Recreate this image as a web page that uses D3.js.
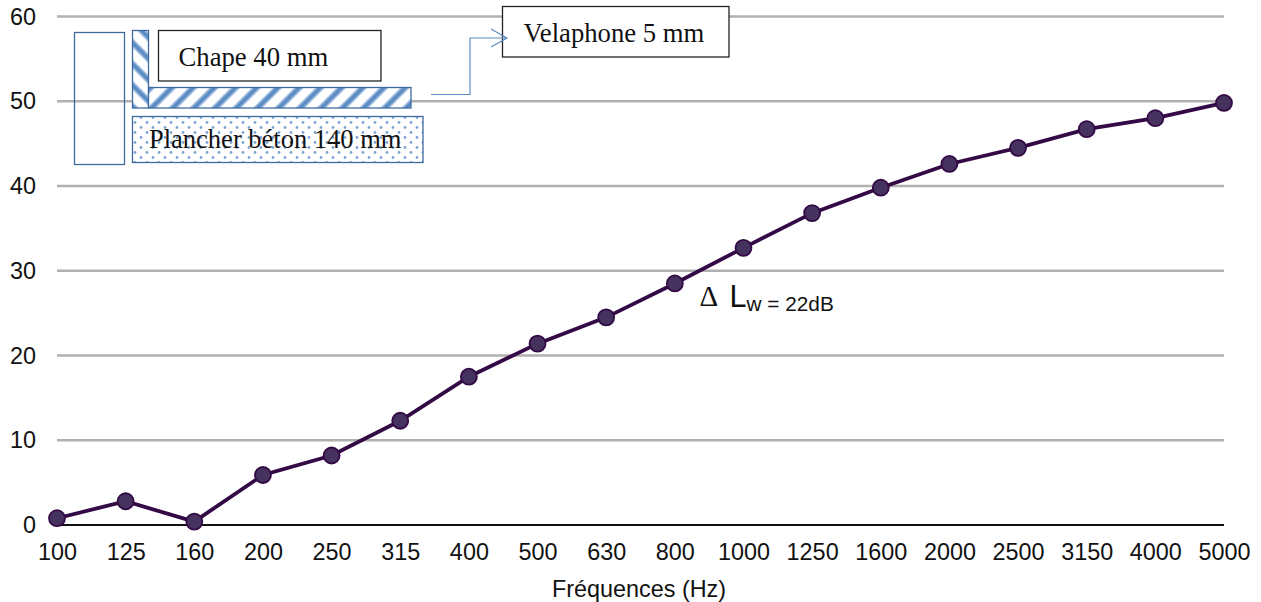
<!DOCTYPE html>
<html>
<head>
<meta charset="utf-8">
<script src="https://cdn.jsdelivr.net/npm/d3@7"></script>
<style>
  html, body { margin: 0; padding: 0; background: #fff; }
  svg { display: block; }
  text { font-family: "Liberation Sans", Arial, sans-serif; fill: #111; }
  .note { font-family: "Liberation Serif", "Times New Roman", serif; fill: #111; }
</style>
</head>
<body>
<svg id="chart" width="1261" height="602"></svg>
<script>
const FREQS = ["100", "125", "160", "200", "250", "315", "400", "500", "630", "800",
  "1000", "1250", "1600", "2000", "2500", "3150", "4000", "5000"];
const DELTA_L = [0.8, 2.8, 0.4, 5.9, 8.2, 12.3, 17.5, 21.4, 24.5, 28.5,
  32.7, 36.8, 39.8, 42.6, 44.5, 46.7, 48.0, 49.8];
const Y_TICKS = [0, 10, 20, 30, 40, 50, 60];

const svg = d3.select("#chart");
const x = d3.scalePoint().domain(FREQS).range([57, 1224]);
const y = d3.scaleLinear().domain([0, 60]).range([525, 16.5]);

// ---- patterns for the floor sketch ----
const defs = svg.append("defs");
function stripes(id, angle) {
  const p = defs.append("pattern").attr("id", id).attr("patternUnits", "userSpaceOnUse")
    .attr("width", 15).attr("height", 15)
    .attr("patternTransform", `rotate(${angle})`);
  p.append("rect").attr("width", 15).attr("height", 15).attr("fill", "#fff");
  p.append("rect").attr("width", 7).attr("height", 15).attr("fill", "#b5cbe6");
  p.append("rect").attr("x", 1.5).attr("width", 4).attr("height", 15).attr("fill", "#5b8cc4");
}
stripes("hatchUp", 45);
stripes("hatchDown", -45);
const dots = defs.append("pattern").attr("id", "dots").attr("patternUnits", "userSpaceOnUse")
  .attr("width", 12).attr("height", 10);
dots.append("rect").attr("width", 12).attr("height", 10).attr("fill", "#fff");
dots.append("circle").attr("cx", 3).attr("cy", 2.5).attr("r", 1.4).attr("fill", "#7fa6d6");
dots.append("circle").attr("cx", 9).attr("cy", 7.5).attr("r", 1.4).attr("fill", "#7fa6d6");

// ---- grid and axes ----
svg.append("g").selectAll("line").data(Y_TICKS.filter((d) => d > 0)).join("line")
  .attr("x1", x.range()[0]).attr("x2", x.range()[1])
  .attr("y1", (d) => y(d)).attr("y2", (d) => y(d))
  .attr("stroke", "#b0b0b0").attr("stroke-width", 2.5);
svg.append("line").attr("x1", x.range()[0]).attr("x2", x.range()[1])
  .attr("y1", y(0)).attr("y2", y(0)).attr("stroke", "#111").attr("stroke-width", 2);

const axisLeft = svg.append("g").attr("transform", "translate(36,0)")
  .call(d3.axisLeft(y).tickValues(Y_TICKS).tickSize(0).tickPadding(0));
axisLeft.select(".domain").remove();
axisLeft.selectAll("text").attr("x", 0).attr("text-anchor", "end").style("font-size", "23.4px")
  .style("font-family", '"Liberation Sans"');

const axisBottom = svg.append("g").attr("transform", "translate(0,525)")
  .call(d3.axisBottom(x).tickSize(0).tickPadding(0));
axisBottom.select(".domain").remove();
axisBottom.selectAll("text").attr("y", 18).style("font-size", "23.4px")
  .style("font-family", '"Liberation Sans"');

svg.append("text").attr("x", 639).attr("y", 597).attr("text-anchor", "middle")
  .style("font-size", "23.4px").text("Fréquences (Hz)");

// ---- series ----
const line = d3.line().x((d, i) => x(FREQS[i])).y((d) => y(d));
svg.append("path").datum(DELTA_L).attr("d", line)
  .attr("fill", "none").attr("stroke", "#330a45").attr("stroke-width", 3.8);
svg.append("g").selectAll("circle").data(DELTA_L).join("circle")
  .attr("cx", (d, i) => x(FREQS[i])).attr("cy", (d) => y(d)).attr("r", 8)
  .attr("fill", "#45325f").attr("stroke", "#330a45").attr("stroke-width", 1.8);

// ---- floor sketch ----
const BLUE = "#3f6aa0";
const sketch = svg.append("g");
function box(x0, y0, x1, y1, fill, stroke, sw) {
  sketch.append("rect").attr("x", x0).attr("y", y0)
    .attr("width", x1 - x0).attr("height", y1 - y0)
    .attr("fill", fill).attr("stroke", stroke).attr("stroke-width", sw);
}
box(74.5, 32.5, 124.5, 164.5, "none", BLUE, 1.3);
box(132.5, 30.5, 148.5, 108, "url(#hatchDown)", BLUE, 1.3);
box(148.5, 87.5, 411, 108, "url(#hatchUp)", BLUE, 1.3);
box(132.5, 116.5, 423, 162.5, "url(#dots)", BLUE, 1.3);
box(158.5, 30.5, 381, 81, "#fff", "#222", 1.3);
box(502.5, 6.5, 729, 57, "#fff", "#222", 1.3);

svg.append("text").attr("class", "note").attr("x", 178.5).attr("y", 66)
  .style("font-size", "26.7px").text("Chape 40 mm");
svg.append("text").attr("class", "note").attr("x", 149).attr("y", 148)
  .style("font-size", "26.5px").text("Plancher béton 140 mm");
svg.append("text").attr("class", "note").attr("x", 523.5).attr("y", 42)
  .style("font-size", "26.7px").text("Velaphone 5 mm");

svg.append("path").attr("d", "M431,94.5H470V38H507M491,29L507,38L491,47")
  .attr("fill", "none").attr("stroke", "#5b8cc4").attr("stroke-width", 1.2);

svg.append("text").attr("class", "note").attr("x", 699.5).attr("y", 306)
  .style("font-size", "29px").text("Δ");
const lw = svg.append("text").attr("x", 729.5).attr("y", 307);
lw.append("tspan").style("font-size", "30.5px").text("L");
lw.append("tspan").style("font-size", "20.8px").attr("dy", 4).text("w = 22dB");
</script>
</body>
</html>
